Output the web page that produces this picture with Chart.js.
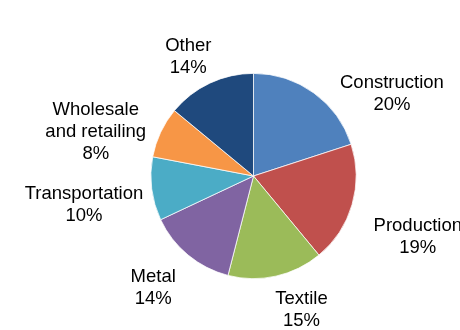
<!DOCTYPE html>
<html>
<head>
<meta charset="utf-8">
<script src="https://cdn.jsdelivr.net/npm/chart.js@4"></script>
<style>
  html, body { margin: 0; padding: 0; background: #fff; }
  #wrap { width: 460px; height: 330px; }
</style>
</head>
<body>
<div id="wrap"><canvas id="pieChart" width="460" height="330"></canvas></div>
<script>
// Data
const sectors = [['Construction'], ['Production'], ['Textile'], ['Metal'], ['Transportation'], ['Wholesale', 'and retailing'], ['Other']];
const shares = [20, 19, 15, 14, 10, 8, 14];
const sliceColors = ['#4F81BD', '#C0504D', '#9BBB59', '#8064A2', '#4BACC6', '#F79646', '#1F497D'];

const FONT = "18.5px 'Liberation Sans', Arial, sans-serif";
const LINE_H = 22;
const GAP = 18;
// hand nudges of the label boxes, like moved data labels in the original
const labelNudge = [[37, 33], [6, 21], [16, -5], [-9, 2], [9, 11], [-3, 21], [-4, 10]];

// Excel-style outside-end labels: name + percentage
const outsideLabels = {
    id: 'outsideLabels',
    afterDatasetsDraw(chart) {
        const ctx = chart.ctx;
        const meta = chart.getDatasetMeta(0);
        ctx.save();
        ctx.font = FONT;
        ctx.fillStyle = '#000';
        ctx.textAlign = 'center';
        ctx.textBaseline = 'middle';
        meta.data.forEach((arc, i) => {
            const p = arc.getProps(['x', 'y', 'startAngle', 'endAngle', 'outerRadius'], true);
            const mid = (p.startAngle + p.endAngle) / 2;
            const cos = Math.cos(mid), sin = Math.sin(mid);
            const lines = sectors[i].concat([shares[i] + '%']);
            const w = Math.max(...lines.map(l => ctx.measureText(l).width));
            const h = lines.length * LINE_H;
            const ax = p.x + cos * (p.outerRadius + GAP);
            const ay = p.y + sin * (p.outerRadius + GAP);
            const cx = ax + cos * w / 2 + labelNudge[i][0];
            const cy = ay + sin * h / 2 + labelNudge[i][1];
            lines.forEach((l, k) => {
                ctx.fillText(l, cx, cy - h / 2 + LINE_H * (k + 0.5));
            });
        });
        ctx.restore();
    }
};

new Chart(document.getElementById('pieChart'), {
    type: 'pie',
    data: {
        labels: sectors.map(s => s.join(' ')),
        datasets: [{
            data: shares,
            backgroundColor: sliceColors,
            borderColor: '#ffffff',
            borderWidth: 0.75
        }]
    },
    options: {
        responsive: false,
        animation: false,
        layout: {
            padding: { top: 73, bottom: 51, left: 150, right: 103 }
        },
        plugins: {
            legend: { display: false },
            tooltip: { enabled: false }
        }
    },
    plugins: [outsideLabels]
});
</script>
</body>
</html>
